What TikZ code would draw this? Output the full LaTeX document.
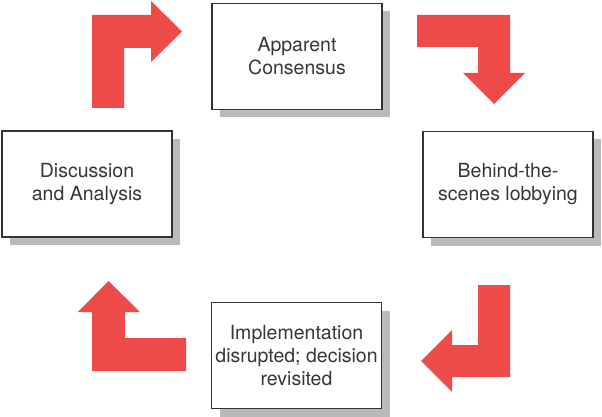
\documentclass[tikz,border=0pt]{standalone}
\usepackage{fontspec}
\setmainfont{TeX Gyre Heros}
\usetikzlibrary{shadows}
\definecolor{arrowred}{RGB}{239,74,74}
\definecolor{boxtext}{RGB}{55,55,55}
\begin{document}
\begin{tikzpicture}[x=1pt,y=-1pt,
  stepbox/.style={draw=black!80,line width=1.6pt,fill=white,minimum width=170pt,minimum height=106pt,
    align=center,text=boxtext,font=\fontsize{19.5}{23}\selectfont,
    drop shadow={shadow xshift=8pt,shadow yshift=-8pt,fill=black!27,opacity=1}},
  bendarrow/.style={fill=arrowred}]
\useasboundingbox (0,0) rectangle (602,417);
% the four stages
\node[stepbox] (consensus) at (297,56.5) {Apparent\\Consensus};
\node[stepbox] (lobbying) at (508,184.5) {Behind-the-\\scenes lobbying};
\node[stepbox] (revisited) at (296.5,355.5) {Implementation\\disrupted; decision\\revisited};
\node[stepbox] (discussion) at (87,184) {Discussion\\and Analysis};
% bent arrows between them
\fill[bendarrow] (92,108) -- (92,15) -- (151,15) -- (151,1) -- (182,31.5) -- (151,62) -- (151,48) -- (124,48) -- (124,108) -- cycle;
\fill[bendarrow] (417,15) -- (510,15) -- (510,73) -- (525,73) -- (494,104) -- (463,73) -- (478,73) -- (478,47) -- (417,47) -- cycle;
\fill[bendarrow] (510,285) -- (510,377) -- (452,377) -- (452,392) -- (421,361) -- (452,330) -- (452,345) -- (478,345) -- (478,285) -- cycle;
\fill[bendarrow] (186,371) -- (92,371) -- (92,312) -- (78,312) -- (108.5,281) -- (140,312) -- (125,312) -- (125,338) -- (186,338) -- cycle;
\end{tikzpicture}
\end{document}
